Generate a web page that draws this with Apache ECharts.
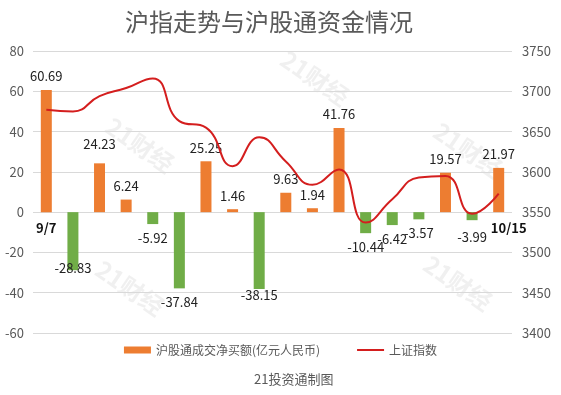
<!DOCTYPE html>
<html>
<head>
<meta charset="utf-8">
<script src="https://cdn.jsdelivr.net/npm/echarts@6/dist/echarts.min.js"></script>
<style>
html,body{margin:0;padding:0;background:#fff;}
#c{width:561px;height:395px;}
</style>
</head>
<body>
<div id="c"></div>
<script>
var categories = ['9/7','9/8','9/9','9/10','9/13','9/14','9/15','9/16','9/23','9/24','9/27','9/28','9/29','9/30','10/8','10/11','10/12','10/15'];
var netBuy = [60.69,-28.83,24.23,6.24,-5.92,-37.84,25.25,1.46,-38.15,9.63,1.94,41.76,-10.44,-6.42,-3.57,19.57,-3.99,21.97];
var shIndex = [3677,3675,3694,3704,3716,3663,3655,3607,3643,3613,3584,3603,3537,3566,3593,3595,3548,3573];
var leftTicks = {min:-60, max:80, step:20};
var rightTicks = {min:3400, max:3750, step:50};
var titleText = '沪指走势与沪股通资金情况';
var barName = '沪股通成交净买额(亿元人民币)';
var lineName = '上证指数';
var sourceText = '21投资通制图';
var watermark = '21财经';

var FONT = '"Noto Sans CJK SC", "Noto Sans", sans-serif';
// per-label offsets (styling only)
var labelShift = {1:{dy:-16}, 2:{dy:-6}, 8:{dy:-7}, 16:{dy:3}};

var chart = echarts.init(document.getElementById('c'), null, {renderer:'canvas'});

var barData = netBuy.map(function(v){
  return {
    value: v,
    itemStyle: {color: v >= 0 ? '#ED7D31' : '#70AD47'},
    label: {position: v >= 0 ? 'top' : 'bottom'}
  };
});

var wmPos = [[140,145],[315,78],[468,150],[130,288],[458,283]];
var graphics = wmPos.map(function(p){
  return {
    type:'text', x:p[0], y:p[1], rotation:-0.6, silent:true, z:0,
    style:{text:watermark, fill:'rgba(200,200,200,0.28)', font:'bold 24px ' + FONT, align:'center', verticalAlign:'middle'}
  };
});
graphics.push({type:'text', left:254, top:373, style:{text:sourceText, fill:'#595959', font:'13px ' + FONT}});

chart.setOption({
  backgroundColor:'#fff',
  animation:false,
  textStyle:{fontFamily:FONT},
  title:{
    text:titleText, left:120, top:5,
    textStyle:{fontSize:24, fontWeight:'normal', color:'#595959', fontFamily:FONT}
  },
  graphic: graphics,
  legend:{
    bottom:34, left:'center', itemGap:36,
    textStyle:{fontSize:12, color:'#595959', fontFamily:FONT},
    data:[
      {name:barName, icon:'rect', itemStyle:{color:'#ED7D31'}},
      {name:lineName, itemStyle:{opacity:0}}
    ],
    itemWidth:27, itemHeight:7
  },
  grid:{left:33, right:49, top:51, bottom:62},
  xAxis:{
    type:'category', data:categories,
    axisLine:{show:false},
    axisTick:{show:false},
    axisLabel:{
      interval:function(i){return i===0 || i===categories.length-1;},
      fontSize:13, fontWeight:'bold', color:'#111', margin:9,
      formatter:function(v,i){ return i===categories.length-1 ? '{r|'+v+'}' : v; },
      rich:{r:{fontSize:13, fontWeight:'bold', color:'#111', padding:[0,0,0,20]}}
    }
  },
  yAxis:[
    {type:'value', min:leftTicks.min, max:leftTicks.max, interval:leftTicks.step,
     axisLine:{show:false}, axisTick:{show:false},
     axisLabel:{fontSize:13, color:'#595959', margin:9},
     splitLine:{lineStyle:{color:'#D9D9D9', width:1}}},
    {type:'value', min:rightTicks.min, max:rightTicks.max, interval:rightTicks.step,
     axisLine:{show:false}, axisTick:{show:false},
     axisLabel:{fontSize:13, color:'#595959', margin:10, formatter:function(v){return String(v);}},
     splitLine:{show:false}}
  ],
  series:[
    {
      name:barName, type:'bar', yAxisIndex:0, data:barData, barWidth:11,
      itemStyle:{color:'#ED7D31'},
      label:{show:true, fontSize:13, color:'#222', distance:7, fontFamily:FONT},
      labelLayout:function(p){
        var s = labelShift[p.dataIndex];
        if(!s) return {};
        return {dy:s.dy};
      },
      z:2
    },
    {
      name:lineName, type:'line', yAxisIndex:1, data:shIndex,
      smooth:0.5, symbol:'none',
      lineStyle:{color:'#D41E1E', width:2},
      itemStyle:{color:'#D41E1E'},
      z:3
    }
  ]
});
// place the category labels at the zero line of the left value axis
var zeroY = chart.convertToPixel({yAxisIndex:0}, 0);
var minY = chart.convertToPixel({yAxisIndex:0}, leftTicks.min);
chart.setOption({xAxis:{offset: -(minY - zeroY)}});
</script>
</body>
</html>
